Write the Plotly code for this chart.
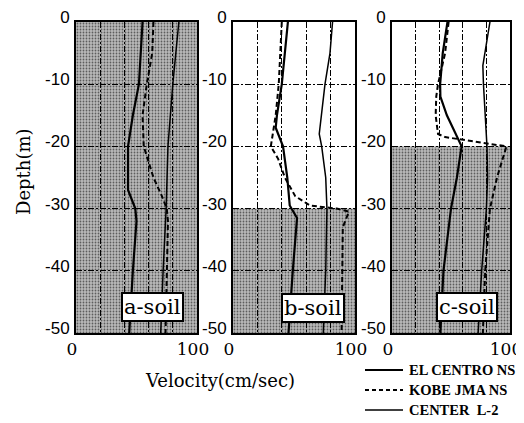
import plotly.graph_objects as go

# ---------------- data ----------------
panels = ["a-soil", "b-soil", "c-soil"]
shade_top = [0, -30, -20]          # top of shaded (soft) layer, m
shade_bottom = -50

series_names = ["EL CENTRO NS", "KOBE JMA NS", "CENTER\u00a0 L-2"]

# panel a
a_elc_depth = [0, -10, -15, -20, -27, -30, -32, -40, -50]
a_elc_vel = [55, 52, 47, 43, 43, 49, 50, 47, 44]
a_kobe_depth = [0, -5, -10, -15, -20, -25, -28, -30, -32, -40, -50]
a_kobe_vel = [64, 63, 58.5, 55, 56, 64, 71, 75, 76, 75, 74]
a_cen_depth = [0, -10, -20, -30, -40, -50]
a_cen_vel = [85, 80, 76, 74.5, 72, 70]

# panel b
b_elc_depth = [0, -5, -10, -15, -17, -20, -25, -29.5, -31.5, -40, -50]
b_elc_vel = [45, 42.5, 40, 36, 35, 41, 44.5, 46.5, 52.5, 49, 45.5]
b_kobe_depth = [0, -10, -15, -20, -22, -25, -28, -29.5, -30, -30.5, -33, -40, -50]
b_kobe_vel = [40, 37.5, 35, 31, 37, 42.5, 51, 63, 85, 95, 90, 89.5, 89]
b_cen_depth = [0, -5, -10, -15, -18, -20, -25, -30, -40, -50]
b_cen_vel = [81.6, 79.5, 75.4, 72.7, 70.7, 72.7, 76, 77, 76, 74]

# panel c
c_elc_depth = [0, -5, -10, -12, -15, -18, -20, -25, -30, -40, -50]
c_elc_vel = [47, 43, 40.8, 41, 46.5, 54, 59, 55, 50, 43.6, 41]
c_kobe_depth = [0, -5, -10, -12, -15, -18, -18.5, -19.5, -20, -25, -30, -40, -50]
c_kobe_vel = [48, 45, 39, 37.5, 37, 39, 45, 80, 97, 89, 83, 79, 77]
c_cen_depth = [0, -5, -7, -10, -15, -20, -25, -30, -40, -50]
c_cen_vel = [83, 79, 77, 77.5, 79, 80.5, 81, 80, 76, 73]

data = [
    [(a_elc_vel, a_elc_depth), (a_kobe_vel, a_kobe_depth), (a_cen_vel, a_cen_depth)],
    [(b_elc_vel, b_elc_depth), (b_kobe_vel, b_kobe_depth), (b_cen_vel, b_cen_depth)],
    [(c_elc_vel, c_elc_depth), (c_kobe_vel, c_kobe_depth), (c_cen_vel, c_cen_depth)],
]

x_ticks = [0, 100]
x_grid = [20, 40, 60, 80]
y_ticks = [0, -10, -20, -30, -40, -50]
y_ticktext = ["0", "-10", "-20", "-30", "-40", "-50"]
label_pos = [(63, -45.8), (65.6, -46.0), (63.8, -45.8)]

# ---------------- styling ----------------
W, H = 524, 423
OFF = 8  # page body margin offset
x_domains = [(76, 197), (233, 355), (392, 510)]
y_top, y_bot = 22, 333
styles = [
    dict(color="black", width=2.2),
    dict(color="black", width=2, dash="5px,3px"),
    dict(color="black", width=1.5),
]
legend_dash = ["solid", "4px,3px", "solid"]
legend_width = [2.2, 2, 1.5]


def px(xw):
    return (xw - OFF) / W


def py(yw):
    return 1 - (yw - OFF) / H


fig = go.Figure()

for i in range(3):
    xa = "x" if i == 0 else f"x{i+1}"
    ya = "y" if i == 0 else f"y{i+1}"
    # shaded soil layer
    fig.add_trace(go.Scatter(
        x=[x_ticks[0], x_ticks[1], x_ticks[1], x_ticks[0], x_ticks[0]],
        y=[shade_top[i], shade_top[i], shade_bottom, shade_bottom, shade_top[i]],
        fill="toself", mode="none",
        fillcolor="rgba(0,0,0,0.28)",
        fillpattern=dict(shape=".", size=3, solidity=0.28, fgcolor="#000000",
                         bgcolor="rgba(0,0,0,0.27)", fillmode="overlay"),
        xaxis=xa, yaxis=ya, showlegend=False, hoverinfo="skip"))
    for j in range(3):
        v, d = data[i][j]
        fig.add_trace(go.Scatter(
            x=v, y=d, mode="lines", line=styles[j], name=series_names[j],
            xaxis=xa, yaxis=ya, showlegend=False))

layout = dict(
    width=W, height=H, margin=dict(l=0, r=0, t=0, b=0, autoexpand=False),
    paper_bgcolor="white", plot_bgcolor="white",
    showlegend=False,
)
annotations = []
shapes = []
for i in range(3):
    xk = "xaxis" if i == 0 else f"xaxis{i+1}"
    yk = "yaxis" if i == 0 else f"yaxis{i+1}"
    ya = "y" if i == 0 else f"y{i+1}"
    xa = "x" if i == 0 else f"x{i+1}"
    x0, x1 = x_domains[i]
    layout[xk] = dict(
        domain=[px(x0), px(x1)], range=[0, 100], anchor=ya, automargin=False,
        tickvals=x_ticks, ticks="", showgrid=False, zeroline=False,
        showline=True, mirror=True, linecolor="black", linewidth=2,
        tickfont=dict(family="DejaVu Serif", size=17, color="black"),
        ticklabelshift=-4, ticklabelstandoff=0, ticklabeloverflow="allow",
        minor=dict(tickvals=x_grid, showgrid=True, gridcolor="black",
                   gridwidth=1, griddash="6px,2px,2px,2px", ticks=""),
    )
    layout[yk] = dict(
        domain=[py(y_bot), py(y_top)], range=[-50, 0], anchor=xa, automargin=False,
        tickvals=y_ticks, ticktext=y_ticktext, ticks="", showgrid=True, gridcolor="black",
        gridwidth=1, griddash="6px,2px,2px,2px", zeroline=False,
        showline=True, mirror=True, linecolor="black", linewidth=2,
        tickfont=dict(family="Liberation Sans", size=17, color="black"),
        ticklabelshift=-5, ticklabelstandoff=1, ticklabeloverflow="allow",
    )
    lx, ly = label_pos[i]
    annotations.append(dict(
        x=lx, y=ly, xref=xa, yref=ya, text=panels[i], showarrow=False,
        xanchor="center", yanchor="middle",
        font=dict(family="DejaVu Serif", size=21, color="black"),
        bgcolor="white", bordercolor="black", borderwidth=2, borderpad=1))

annotations.append(dict(
    x=px(23), y=py(172), xref="paper", yref="paper", text="Depth(m)",
    textangle=-90, showarrow=False, xanchor="center", yanchor="middle",
    font=dict(family="DejaVu Serif", size=18, color="black")))
annotations.append(dict(
    x=px(220), y=py(380), xref="paper", yref="paper", text="Velocity(cm/sec)",
    showarrow=False, xanchor="center", yanchor="middle",
    font=dict(family="DejaVu Serif", size=18, color="black")))

# legend (drawn manually to match spacing)
leg_y = [370, 390, 410]
for j in range(3):
    shapes.append(dict(
        type="line", xref="paper", yref="paper",
        x0=px(365), x1=px(403), y0=py(leg_y[j]), y1=py(leg_y[j]),
        line=dict(color="black", width=legend_width[j], dash=legend_dash[j])))
    annotations.append(dict(
        x=px(407), y=py(leg_y[j]), xref="paper", yref="paper",
        text=series_names[j], showarrow=False, xanchor="left", yanchor="middle",
        font=dict(family="Liberation Serif", size=14.5, color="black", weight="bold")))

layout["annotations"] = annotations
layout["shapes"] = shapes

fig.update_layout(**layout)
fig.write_html("out.html")
